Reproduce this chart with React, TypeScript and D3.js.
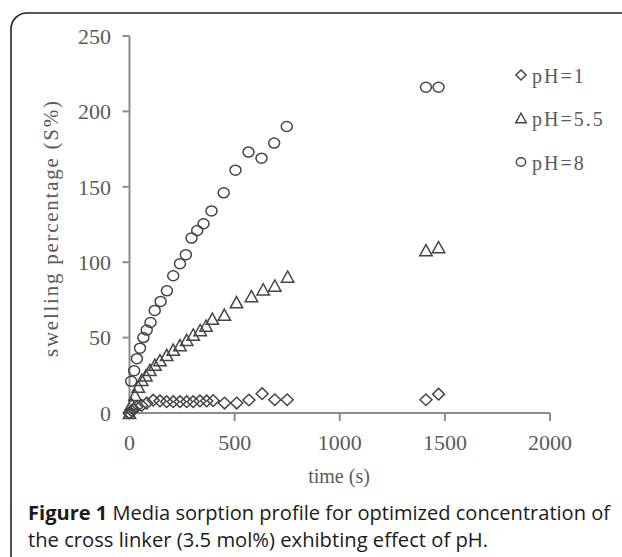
import React from "react";
import * as d3 from "d3";

const xTicks = [0, 500, 1000, 1500, 2000];
const yTicks = [0, 50, 100, 150, 200, 250];

const tPH1 = [0, 10, 18, 34, 58, 82, 113, 145, 177, 208, 240, 272, 303, 335, 367, 398, 452, 510, 568, 631, 691, 750, 1410, 1470];
const vPH1 = [0, 1.5, 2.5, 4, 5, 6.5, 8.5, 8, 7.5, 7.5, 7.5, 7.5, 7.5, 8, 8, 8.2, 6.6, 6.6, 8.6, 12.8, 8.8, 8.8, 8.8, 12.5];

const tPH55 = [0, 10, 26, 42, 58, 78, 97, 121, 145, 177, 208, 240, 272, 303, 336, 364, 394, 451, 509, 580, 636, 691, 752, 1410, 1470];
const vPH55 = [0, 6, 12, 17.5, 22, 25, 28.5, 32, 35, 38.5, 42, 45, 48.5, 52, 55, 58, 62.5, 65.2, 73.5, 77.5, 82, 84.5, 90.5, 108, 110];

const tPH8 = [0, 8, 22, 35, 50, 66, 82, 100, 120, 148, 178, 208, 240, 268, 295, 322, 352, 390, 448, 504, 566, 628, 688, 748, 1410, 1470];
const vPH8 = [0, 21, 28, 36, 43, 50, 55, 60, 68, 74, 81, 91, 99, 105, 116, 121, 125.5, 134, 146, 161, 173, 169, 179, 190, 216, 216];

const legendLabels = ["pH=1", "pH=5.5", "pH=8"];

const serif = "'Liberation Serif', 'Times New Roman', serif";
const markColor = "#454545";

function Marker({ kind, x, y, s = 1 }: { kind: string; x: number; y: number; s?: number }) {
  if (kind === "diamond") {
    const w = 6 * s, h = 5.8 * s;
    return (
      <path
        d={`M${x},${y - h}L${x + w},${y}L${x},${y + h}L${x - w},${y}Z`}
        fill="none"
        stroke={markColor}
        strokeWidth={1.5}
      />
    );
  }
  if (kind === "triangle") {
    const w = 6.2 * s, h = 5.6 * s;
    return (
      <path
        d={`M${x},${y - h}L${x + w},${y + h}L${x - w},${y + h}Z`}
        fill="none"
        stroke={markColor}
        strokeWidth={1.5}
      />
    );
  }
  return <ellipse cx={x} cy={y} rx={5.5 * s} ry={5 * s} fill="none" stroke={markColor} strokeWidth={1.5} />;
}

export default function App() {
  const x = d3.scaleLinear().domain([0, 2000]).range([129.5, 550]);
  const y = d3.scaleLinear().domain([0, 250]).range([413, 36]);
  const axisColor = "#8c8c8c";
  const tickColor = "#5a5a5a";

  const series = [
    { kind: "diamond", t: tPH1, v: vPH1 },
    { kind: "triangle", t: tPH55, v: vPH55 },
    { kind: "circle", t: tPH8, v: vPH8 },
  ];
  const legendKinds = ["diamond", "triangle", "circle"];
  const legendY = [76, 119, 163];

  return (
    <svg
      width={622}
      height={557}
      style={{ position: "absolute", left: 0, top: 0, display: "block", background: "#fff" }}
    >
      <rect x={0} y={0} width={622} height={557} fill="#fff" />
      <rect x={11} y={13} width={700} height={620} rx={16} ry={16} fill="none" stroke="#222" strokeWidth={1.6} />

      {/* axes */}
      <line x1={x(0)} x2={x(0)} y1={y(250)} y2={y(0)} stroke={axisColor} strokeWidth={2} />
      <line x1={x(0)} x2={x(2000)} y1={y(0)} y2={y(0)} stroke={axisColor} strokeWidth={2} />
      {yTicks.map((t) => (
        <g key={"y" + t}>
          <line x1={x(0) - 7} x2={x(0)} y1={y(t)} y2={y(t)} stroke={axisColor} strokeWidth={2} />
          <text x={111} y={y(t)} dy="0.35em" textAnchor="end" fontFamily={serif} fontSize={22} fill={tickColor}>
            {t}
          </text>
        </g>
      ))}
      {xTicks.map((t) => (
        <g key={"x" + t}>
          {t > 0 && <line x1={x(t)} x2={x(t)} y1={y(0)} y2={y(0) + 8} stroke={axisColor} strokeWidth={2} />}
          <text x={x(t)} y={442} dy="0.35em" textAnchor="middle" fontFamily={serif} fontSize={22} fill={tickColor}>
            {t}
          </text>
        </g>
      ))}

      {/* axis titles */}
      <text x={339} y={483} textAnchor="middle" fontFamily={serif} fontSize={20} fill={tickColor}>
        time (s)
      </text>
      <text
        transform="translate(58,229) rotate(-90)"
        textAnchor="middle"
        fontFamily={serif}
        fontSize={21}
        fill={tickColor}
        textLength={256}
        lengthAdjust="spacing"
      >
        swelling percentage (S%)
      </text>

      {/* data */}
      {series.map((s) => (
        <g key={s.kind}>
          {s.t.map((t, i) => (
            <Marker key={i} kind={s.kind} x={x(t)} y={y(s.v[i])} />
          ))}
        </g>
      ))}

      {/* legend */}
      {legendLabels.map((l, i) => (
        <g key={l}>
          <Marker kind={legendKinds[i]} x={521} y={legendY[i] - 1} s={0.85} />
          <text x={532} y={legendY[i]} dy="0.35em" fontFamily={serif} fontSize={20} fill={tickColor} letterSpacing={2}>
            {l}
          </text>
        </g>
      ))}

      {/* caption */}
      <text
        x={28}
        y={520}
        fontFamily="'Open Sans', sans-serif"
        fontSize={20}
        fill="#1a1a1a"
        textLength={582}
        lengthAdjust="spacingAndGlyphs"
      >
        <tspan fontWeight="bold">Figure 1</tspan> Media sorption profile for optimized concentration of
      </text>
      <text
        x={28}
        y={547}
        fontFamily="'Open Sans', sans-serif"
        fontSize={20}
        fill="#1a1a1a"
        textLength={460}
        lengthAdjust="spacingAndGlyphs"
      >
        the cross linker (3.5 mol%) exhibting effect of pH.
      </text>
    </svg>
  );
}
